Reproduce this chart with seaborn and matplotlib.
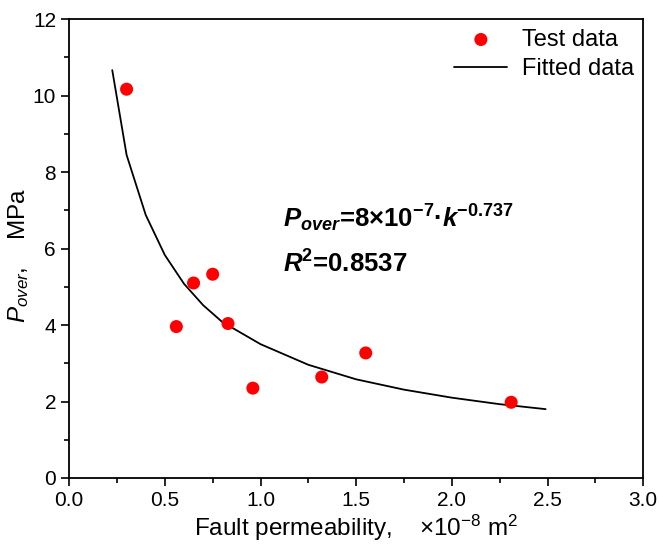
import numpy as np
import pandas as pd
import matplotlib
matplotlib.use("Agg")
import matplotlib.pyplot as plt
import seaborn as sns
from matplotlib.ticker import MultipleLocator

# test data
perm_test = [0.30, 0.56, 0.65, 0.75, 0.83, 0.96, 1.32, 1.55, 2.31]
p_test = [10.17, 3.96, 5.10, 5.33, 4.04, 2.35, 2.64, 3.27, 1.98]

# fitted curve
perm_fit = [0.225, 0.30, 0.40, 0.50, 0.60, 0.70, 0.80, 1.00, 1.25, 1.50, 1.75, 2.00, 2.25, 2.49]
p_fit = [10.67, 8.45, 6.88, 5.83, 5.08, 4.52, 4.08, 3.50, 2.96, 2.58, 2.31, 2.10, 1.93, 1.80]

df_test = pd.DataFrame({'perm': perm_test, 'p': p_test})
df_fit = pd.DataFrame({'perm': perm_fit, 'p': p_fit})

sns.set_style("ticks")
plt.rcParams['font.family'] = ['Liberation Sans', 'DejaVu Sans']
plt.rcParams['mathtext.fontset'] = 'custom'
plt.rcParams['mathtext.rm'] = 'Liberation Sans'
plt.rcParams['mathtext.it'] = 'Liberation Sans:italic'
plt.rcParams['mathtext.bf'] = 'Liberation Sans:bold'
plt.rcParams['mathtext.bfit'] = 'Liberation Sans:bold:italic'
for key in ['text.color', 'axes.labelcolor', 'xtick.color', 'ytick.color', 'axes.edgecolor']:
    plt.rcParams[key] = 'black'

fig, ax = plt.subplots(figsize=(6.59, 5.5), dpi=100)
fig.subplots_adjust(left=0.105, right=0.976, top=0.965, bottom=0.131)

sns.scatterplot(data=df_test, x='perm', y='p', ax=ax, color='#ff0000', s=88,
                edgecolor='none', label='Test data', zorder=3)
sns.lineplot(data=df_fit, x='perm', y='p', ax=ax, color='black', linewidth=1.3,
             label='Fitted data', sort=False)

ax.set_xlim(0, 3.0)
ax.set_ylim(0, 12)
ax.xaxis.set_major_locator(MultipleLocator(0.5))
ax.xaxis.set_minor_locator(MultipleLocator(0.25))
ax.yaxis.set_major_locator(MultipleLocator(2))
ax.yaxis.set_minor_locator(MultipleLocator(1))
ax.xaxis.set_major_formatter(plt.FormatStrFormatter('%.1f'))
ax.tick_params(which='major', direction='out', length=6, width=1.2, labelsize=15)
ax.tick_params(which='minor', direction='out', length=3.5, width=1.2)
for sp in ax.spines.values():
    sp.set_linewidth(1.3)
    sp.set_visible(True)

ax.set_xlabel(r"Fault permeability,    $\mathrm{\times10^{-8}}$ m$^\mathrm{2}$", fontsize=17.5, labelpad=2)
ax.set_ylabel(r"$P_{over}$,    MPa", fontsize=17.5)
ax.yaxis.set_label_coords(-0.066, 0.485)

ax.text(1.12, 6.55,
        r"$\mathbfit{P}_{\mathbfit{over}}$=8×10$^{\mathbf{-7}}$·$\mathbfit{k}^{\mathbf{-0.737}}$",
        fontsize=18.5, fontweight='bold')
ax.text(1.12, 5.37, r"$\mathbfit{R}^{\mathbf{2}}$=0.8537", fontsize=18.5, fontweight='bold')

leg = ax.legend(loc='upper right', frameon=False, fontsize=17, handlelength=2.25,
                borderaxespad=0.0, labelspacing=0.3, handletextpad=0.6)

fig.savefig("out.png", dpi=100)
